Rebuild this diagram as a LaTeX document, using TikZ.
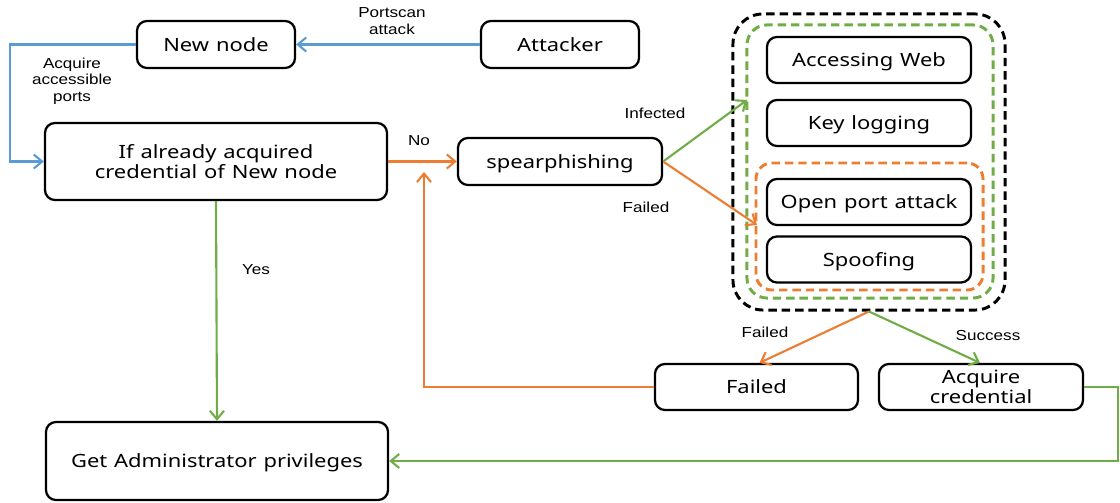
\documentclass[tikz,border=0pt]{standalone}
\usepackage{fontspec}
\setmainfont[FakeStretch=1.2,WordSpace=1.2]{Noto Sans}
\newfontfamily\lblfont[FakeStretch=1.18]{Liberation Sans}
\usetikzlibrary{arrows.meta,calc}
\definecolor{cblue}{RGB}{91,155,213}
\definecolor{corange}{RGB}{237,125,49}
\definecolor{cgreen}{RGB}{112,173,71}
\begin{document}
\begin{tikzpicture}[x=0.025cm,y=-0.025cm,
  box/.style={draw=black,line width=1.6pt,rounded corners=0.25cm,align=center,
    font=\fontsize{13}{14.2}\selectfont,inner sep=0pt,text depth=0pt},
  lbl/.style={font=\lblfont\fontsize{10.3}{11.8}\selectfont,align=center,inner sep=0pt},
  conn/.style={line width=1.5pt,-{Straight Barb[length=6pt,width=10pt,line width=1.5pt]}},
  cont/.style={line width=2.1pt,dash pattern=on 6pt off 3.5pt,inner sep=0pt}]
\useasboundingbox (0,0) rectangle (1120,503);
% containers
\node[cont,draw=black,rounded corners=0.75cm,minimum width=6.8cm,minimum height=7.4cm] (blk) at (869,162) {};
\node[cont,draw=cgreen,rounded corners=0.5cm,minimum width=6.15cm,minimum height=6.825cm] (grn) at (870,161.5) {};
\node[cont,draw=corange,rounded corners=0.4cm,minimum width=5.675cm,minimum height=3.175cm] (org) at (869.5,226.5) {};
% boxes
\node[box,minimum width=3.95cm,minimum height=1.175cm] (new) at (216,44.5) {New node};
\node[box,minimum width=3.95cm,minimum height=1.175cm] (att) at (560,44.5) {Attacker};
\node[box,minimum width=8.55cm,minimum height=1.925cm] (if) at (216,161.5) {If already acquired\\credential of New node};
\node[box,minimum width=5.1cm,minimum height=1.175cm] (sp) at (560,161.5) {spearphishing};
\node[box,minimum width=8.55cm,minimum height=1.95cm] (adm) at (217,461) {Get Administrator privileges};
\node[box,minimum width=5.075cm,minimum height=1.15cm] (fail) at (756.5,387) {Failed};
\node[box,minimum width=5.1cm,minimum height=1.15cm] (acq) at (981,387) {Acquire\\credential};
\node[box,minimum width=5.1cm,minimum height=1.15cm] (web) at (869,60) {Accessing Web};
\node[box,minimum width=5.1cm,minimum height=1.15cm] (key) at (869,123) {Key logging};
\node[box,minimum width=5.1cm,minimum height=1.15cm] (opa) at (869,202) {Open port attack};
\node[box,minimum width=5.1cm,minimum height=1.15cm] (spf) at (869,259.5) {Spoofing};
% coordinates
\coordinate (gin) at (747,100);
\coordinate (oin) at (757,225);
\coordinate (loop) at (424,172);
% connectors
\draw[conn,cblue] (att.west) -- (new.east);
\draw[conn,cblue] (new.west) -- ++(-126,0) |- (if.west);
\draw[conn,corange] (if.east) -- (sp.west);
\draw[conn,cgreen] (if.south) -- (adm.north);
\draw[conn,cgreen] (sp.east) -- (gin);
\draw[conn,corange] (sp.east) -- (oin);
\draw[conn,corange] (fail.west) -| (loop);
\draw[conn,corange] (blk.south) -- ($(fail.north)+(3,0)$);
\draw[conn,cgreen] (blk.south) -- ($(acq.north)+(-1,0)$);
\draw[conn,cgreen] (acq.east) -- ++(34,0) |- (adm.east);
% labels
\node[lbl] (l1) at (392,21) {Portscan\\attack};
\node[lbl] (l2) at (72,81) {Acquire\\accessible\\ports};
\node[lbl] (l3) at (419,141) {No};
\node[lbl] (l4) at (256,270) {Yes};
\node[lbl] (l5) at (655,113) {Infected};
\node[lbl] (l6) at (646,207) {Failed};
\node[lbl] (l7) at (765,332) {Failed};
\node[lbl] (l8) at (988,336) {Success};
\end{tikzpicture}
\end{document}
